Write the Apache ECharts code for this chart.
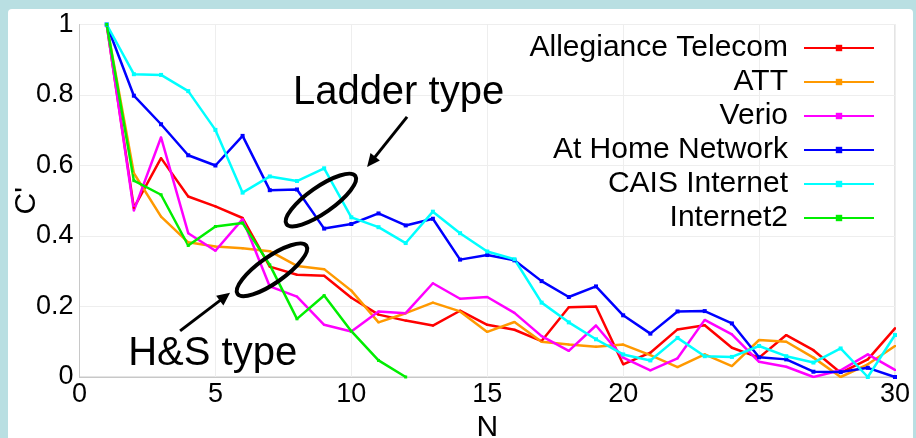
<!DOCTYPE html>
<html>
<head>
<meta charset="utf-8">
<script src="https://cdn.jsdelivr.net/npm/echarts@6/dist/echarts.min.js"></script>
<style>
  html, body { margin: 0; padding: 0; background: #b9dfe2; }
  body { width: 916px; height: 438px; position: relative; overflow: hidden; }
  #main { position: absolute; left: 8px; top: 9px; width: 905px; height: 429px; background: #fff; border-radius: 4px 4px 0 0; }
</style>
</head>
<body>
<div id="main"></div>
<script>
// N = 1..30
const N = [1, 2, 3, 4, 5, 6, 7, 8, 9, 10, 11, 12, 13, 14, 15, 16, 17, 18, 19, 20, 21, 22, 23, 24, 25, 26, 27, 28, 29, 30]

const allegiance = [1.0, 0.48, 0.621, 0.512, 0.484, 0.451, 0.313, 0.290, 0.287, 0.225, 0.177, 0.160, 0.146, 0.188, 0.148, 0.134, 0.102, 0.198, 0.200, 0.036, 0.069, 0.135, 0.147, 0.083, 0.055, 0.119, 0.076, 0.012, 0.050, 0.138]
const att = [1.0, 0.578, 0.455, 0.382, 0.370, 0.365, 0.357, 0.315, 0.306, 0.245, 0.155, 0.181, 0.211, 0.186, 0.128, 0.156, 0.100, 0.092, 0.086, 0.092, 0.062, 0.028, 0.064, 0.031, 0.105, 0.100, 0.055, 0.0, 0.036, 0.088]
const verio = [1.0, 0.472, 0.680, 0.408, 0.358, 0.448, 0.257, 0.228, 0.148, 0.129, 0.186, 0.181, 0.266, 0.222, 0.227, 0.182, 0.116, 0.074, 0.146, 0.055, 0.019, 0.053, 0.162, 0.121, 0.043, 0.029, 0.0, 0.019, 0.064, 0.020]
const atHome = [1.0, 0.798, 0.717, 0.629, 0.600, 0.684, 0.530, 0.532, 0.421, 0.434, 0.464, 0.430, 0.449, 0.333, 0.346, 0.331, 0.272, 0.227, 0.257, 0.175, 0.123, 0.186, 0.187, 0.152, 0.056, 0.050, 0.015, 0.014, 0.026, 0.0]
const cais = [1.0, 0.859, 0.857, 0.811, 0.701, 0.523, 0.569, 0.556, 0.592, 0.453, 0.425, 0.380, 0.469, 0.408, 0.356, 0.334, 0.211, 0.155, 0.107, 0.064, 0.047, 0.111, 0.059, 0.057, 0.088, 0.059, 0.041, 0.081, 0.0, 0.119]
const internet2 = [1.0, 0.557, 0.517, 0.373, 0.427, 0.437, 0.318, 0.165, 0.231, 0.130, 0.047, 0.0]

const seriesDefs = [
  { name: 'Allegiance Telecom', color: '#ff0000', mark: 2, values: allegiance },
  { name: 'ATT', color: '#ff9900', mark: 2, values: att },
  { name: 'Verio', color: '#ff00ff', mark: 2, values: verio },
  { name: 'At Home Network', color: '#0000ff', mark: 4, values: atHome },
  { name: 'CAIS Internet', color: '#00ffff', mark: 4, values: cais },
  { name: 'Internet2', color: '#00ee00', mark: 3, values: internet2 }
]

const font = '"Liberation Sans", Arial, sans-serif'

const chart = echarts.init(document.getElementById('main'))

const series = seriesDefs.map(item => ({
  name: item.name,
  type: 'line',
  symbol: 'rect',
  symbolSize: item.mark,
  color: item.color,
  lineStyle: { color: item.color, width: 2.5 },
  itemStyle: { color: item.color },
  data: item.values.map((v, i) => [N[i], v])
}))

chart.setOption({
  animation: false,
  backgroundColor: 'transparent',
  grid: {
    left: 71.5,
    top: 15.5,
    right: 18,
    bottom: 61,
    outerBoundsMode: 'none',
    containLabel: false,
    show: true,
    borderColor: '#c8c8c8',
    borderWidth: 1
  },
  legend: {
    orient: 'vertical',
    right: 33,
    top: 19,
    align: 'right',
    itemWidth: 70,
    itemHeight: 8,
    itemGap: 4,
    textStyle: {
      fontFamily: font,
      fontSize: 30,
      color: '#000',
      padding: [0, 11, 0, 0]
    },
    data: seriesDefs.map(item => item.name)
  },
  xAxis: {
    type: 'value',
    min: 0,
    max: 30,
    interval: 5,
    name: 'N',
    nameLocation: 'middle',
    nameGap: 36,
    nameMoveOverlap: false,
    nameTextStyle: { fontFamily: font, fontSize: 30, color: '#000' },
    axisLine: { lineStyle: { color: '#c8c8c8' } },
    axisTick: { show: false },
    axisLabel: { fontFamily: font, fontSize: 27, color: '#000', margin: 4 },
    splitLine: { show: true, lineStyle: { color: '#eeeeee' } }
  },
  yAxis: {
    type: 'value',
    min: 0,
    max: 1,
    interval: 0.2,
    name: "C'",
    nameLocation: 'middle',
    nameGap: 38,
    nameRotate: 90,
    nameMoveOverlap: false,
    nameTextStyle: { fontFamily: font, fontSize: 30, color: '#000' },
    axisLine: { show: true, lineStyle: { color: '#c8c8c8' } },
    axisTick: { show: false },
    axisLabel: { fontFamily: font, fontSize: 27, color: '#000', margin: 6 },
    splitLine: { show: true, lineStyle: { color: '#eeeeee' } }
  },
  series
})

// annotations placed in data coordinates
const px = (n, v) => chart.convertToPixel({ gridIndex: 0 }, [n, v])

function arrow(from, to) {
  const a = px(from[0], from[1])
  const b = px(to[0], to[1])
  const dx = b[0] - a[0], dy = b[1] - a[1]
  const len = Math.sqrt(dx * dx + dy * dy)
  const ux = dx / len, uy = dy / len
  const L = 13, W = 6
  return [
    { type: 'line', shape: { x1: a[0], y1: a[1], x2: b[0] - ux * 8, y2: b[1] - uy * 8 }, style: { stroke: '#000', lineWidth: 3 }, z: 100 },
    { type: 'polygon', shape: { points: [b, [b[0] - ux * L - uy * W, b[1] - uy * L + ux * W], [b[0] - ux * L + uy * W, b[1] - uy * L - ux * W]] }, style: { fill: '#000' }, z: 100 }
  ]
}

function ellipse(n, v, rx, ry, deg) {
  const c = px(n, v)
  return {
    type: 'ellipse',
    x: c[0],
    y: c[1],
    rotation: deg * Math.PI / 180,
    shape: { cx: 0, cy: 0, rx, ry },
    style: { fill: 'none', stroke: '#000', lineWidth: 4 },
    z: 100
  }
}

function label(text, n, v) {
  const p = px(n, v)
  return {
    type: 'text',
    x: p[0],
    y: p[1],
    style: { text, fontFamily: font, fontSize: 40, fill: '#000', verticalAlign: 'middle' },
    z: 100
  }
}

chart.setOption({
  graphic: [
    label('Ladder type', 7.85, 0.806),
    ...arrow([12.05, 0.738], [10.58, 0.596]),
    ellipse(8.88, 0.502, 42, 13, 35),
    label('H&S type', 1.79, 0.065),
    ...arrow([3.70, 0.131], [5.54, 0.239]),
    ellipse(7.08, 0.304, 42, 13, 35)
  ]
})
</script>
</body>
</html>
